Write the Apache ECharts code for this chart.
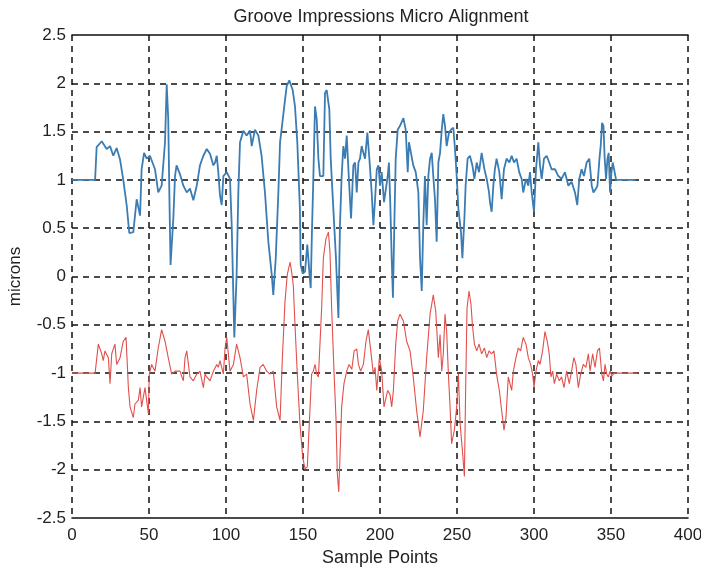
<!DOCTYPE html>
<html lang="en">
<head>
    <meta charset="UTF-8">
    <title>Groove Impressions Micro Alignment</title>
    <style>
        html, body { margin: 0; padding: 0; background: #fff; }
        #chart { width: 701px; height: 571px; }
    </style>
</head>
<body>
    <div id="chart"></div>
    <script src="https://cdn.jsdelivr.net/npm/echarts@6/dist/echarts.min.js"></script>
    <script>
        // upper trace (blue)
        const blueX = [0, 15, 16, 19.3, 20.3, 22.5, 24.7, 26.8, 29, 31.2, 33.3, 35.5, 37.2, 39.8, 42, 44.2, 45.2, 46.8, 48.5, 50.6,
            53.9, 56, 58.2, 60.4, 61.5, 62.5, 63.2, 64, 65.8, 66.9, 67.9, 70.1, 72.3, 74.5, 76.6, 78.8, 81, 83.1, 85.3, 87.5,
            89.6, 91.8, 92.9, 94, 95, 96.1, 97.2, 98.3, 100.5, 102.6, 103.7, 105.4, 106.9, 108, 109.1, 111.3, 113.4, 115.6, 116.7, 118.8,
            121, 123.1, 125.3, 127.5, 129.7, 130.7, 132.3, 134, 135.1, 136.6, 137.6, 139.4, 141.1, 143.3, 144.8, 146.3, 148, 148.5, 149.8, 151.3,
            152.8, 154.1, 155, 155.8, 156.7, 157.8, 158.9, 160, 161, 163.2, 164.3, 165.4, 167.1, 168, 169.7, 171.4, 173, 174, 175.1, 176.2,
            177.3, 178.4, 179.9, 181.2, 182.7, 183.8, 184.9, 186, 187, 188.1, 189.2, 190.3, 191.8, 193.1, 194.6, 195.7, 196.8, 197.9, 199, 200,
            201.1, 202.6, 205, 205.8, 206.7, 207.6, 208.4, 209.3, 210.2, 211.5, 213, 215.2, 216.7, 218, 218.8, 220.1, 221.6, 223.2, 224.9, 226,
            227.1, 228.1, 229.2, 230.3, 231.4, 232.5, 233.6, 234.6, 235.7, 236.8, 237.9, 239, 240.1, 241.1, 242.2, 243.3, 244.8, 246.1, 247.6, 248.7,
            249.8, 250.9, 252.6, 253.5, 254.8, 255.6, 256.9, 258.4, 260, 261.3, 262.8, 264.3, 266, 267.8, 269.3, 270.8, 271.4, 272.5, 273.6, 274.6,
            275.7, 277.5, 279, 280.5, 282.2, 284, 285.5, 287, 288.7, 290.4, 292, 293, 294.8, 296.3, 297.4, 298.5, 300, 301.3, 302.8, 303.9,
            305, 306.5, 308.2, 309.9, 311.4, 313.6, 315.8, 317.9, 320.1, 322.3, 324.4, 326.6, 328.1, 329.4, 330.9, 332.4, 334.2, 335.9, 337.5, 338.6,
            340.3, 341.2, 342.5, 343.3, 344.2, 345.1, 345.9, 346.8, 347.7, 348.5, 349.4, 350.3, 351.1, 352, 353.3, 366];
        const blueY = [1, 1, 1.34, 1.40, 1.38, 1.32, 1.35, 1.25, 1.33, 1.21, 1.0, 0.74, 0.45, 0.46, 0.80, 0.63, 1.11, 1.28, 1.22, 1.25,
            1.11, 0.87, 0.94, 1.39, 1.99, 1.63, 0.87, 0.12, 0.60, 1.04, 1.15, 1.06, 0.94, 0.87, 0.91, 0.79, 0.94, 1.15, 1.25, 1.32,
            1.27, 1.15, 1.18, 1.25, 1.08, 0.84, 0.74, 1.04, 1.08, 1.01, 0.53, -0.63, 0.02, 0.87, 1.39, 1.51, 1.46, 1.51, 1.35, 1.52,
            1.46, 1.25, 0.87, 0.36, 0.02, -0.19, 0.19, 0.87, 1.39, 1.59, 1.73, 1.97, 2.03, 1.93, 1.76, 1.39, 0.70, 0.12, 0.03, 0.05,
            0.33, 0.05, -0.12, 0.46, 1.01, 1.76, 1.63, 1.22, 1.04, 1.04, 1.90, 1.93, 1.73, 1.22, 0.70, 0.19, -0.43, 0.53, 1.04, 1.35,
            1.22, 1.46, 0.98, 0.60, 1.15, 1.18, 0.87, 1.18, 1.22, 1.35, 1.28, 1.22, 1.49, 1.22, 0.87, 0.53, 0.80, 1.11, 1.15, 0.94,
            1.08, 0.77, 1.04, 1.18, 0.74, 0.19, -0.22, 0.53, 1.22, 1.52, 1.56, 1.64, 1.52, 1.08, 1.39, 1.28, 1.15, 1.08, 0.87, 0.19,
            -0.15, 0.53, 1.04, 0.53, 1.04, 1.22, 1.28, 1.04, 0.80, 0.36, 1.18, 1.28, 1.52, 1.68, 1.56, 1.35, 1.49, 1.52, 1.54, 1.32,
            1.04, 0.70, 0.46, 0.19, 0.60, 0.94, 1.22, 1.25, 1.15, 1.01, 1.18, 1.08, 1.28, 1.11, 1.01, 0.87, 0.77, 0.67, 0.94, 1.11,
            1.22, 1.08, 0.80, 1.11, 1.22, 1.18, 1.25, 1.18, 1.22, 1.08, 1.01, 0.87, 1.01, 0.94, 1.08, 0.87, 0.67, 1.11, 1.39, 1.15,
            1.01, 1.22, 1.25, 1.18, 1.11, 1.11, 1.04, 1.01, 1.08, 0.94, 0.98, 0.87, 0.74, 1.01, 1.11, 1.04, 1.18, 1.22, 0.94, 0.87,
            0.91, 0.94, 1.22, 1.35, 1.59, 1.56, 1.22, 1.01, 1.22, 1.28, 0.87, 1.08, 1.18, 1.11, 1.0, 1.0];

        // lower trace (red)
        const redX = [0, 15, 17.1, 19.3, 20.3, 21.4, 23.6, 24.7, 25.8, 27.9, 29, 31.2, 33.3, 35.1, 36.6, 37.7, 39.8, 40.9, 43.1, 44.2,
            45.2, 47.4, 49.6, 50.2, 51.7, 53.9, 56, 58.2, 60.4, 62.5, 64.7, 66.9, 70.1, 72.3, 73.4, 74.5, 76.6, 78.8, 81, 83.1,
            85.3, 86.4, 87.5, 89.6, 91.8, 94, 95, 96.1, 98.3, 99.4, 100.5, 101.5, 102.6, 104.8, 106.9, 109.1, 111.3, 113.4, 115.6, 117.8,
            119.9, 122.1, 124.2, 126.4, 128.6, 130.7, 132.9, 135.1, 136.6, 138.3, 139.8, 141.6, 142.6, 143.7, 144.8, 146.3, 148, 149.8, 151.3, 152.8,
            154.1, 155.6, 156.7, 157.8, 158.9, 160, 160.6, 162.1, 163.2, 164.9, 166.5, 167.5, 168.6, 170.2, 171.4, 172.3, 173.2, 174, 175.1, 176.6,
            178.4, 179.9, 181.7, 183.2, 184.9, 186, 187.4, 189.2, 190.9, 192.4, 194, 195.7, 196.8, 197.9, 199.6, 201.1, 202.6, 205, 206.5, 207.6,
            208.7, 210.2, 211.5, 213, 215.2, 217.3, 219.5, 221.6, 223.8, 226, 228.1, 230.3, 232.5, 234.6, 236.2, 237.9, 239, 240.1, 241.1, 242.2,
            243.3, 244.4, 245.5, 246.5, 248.3, 249.8, 250.9, 252, 253.5, 254.8, 255.6, 256.5, 257.8, 259.1, 260, 261.3, 262.8, 264.3, 266, 267.8,
            269.3, 270.8, 272.5, 274, 275.7, 277.5, 279, 280.5, 281.8, 283.3, 284.4, 285.5, 286.6, 288.3, 289.8, 291.3, 293, 294.8, 296.3, 297.8,
            299.1, 300, 301.3, 302.8, 303.9, 305.6, 307.1, 308.6, 309.9, 311, 312.1, 313.2, 314.7, 316.4, 317.9, 319.5, 321.2, 322.9, 324.4, 325.9,
            327.2, 328.8, 330.3, 332, 333.7, 335.3, 336.4, 338.1, 339.6, 341.2, 342.5, 344, 345.1, 346.1, 347.2, 348.3, 349.4, 350.5, 352, 367];
        const redY = [-1, -1, -0.70, -0.80, -0.87, -0.77, -0.84, -1.11, -0.80, -0.70, -0.91, -0.84, -0.67, -0.63, -1.15, -1.35, -1.46, -1.32, -1.28, -1.15,
            -1.35, -1.15, -1.42, -1.01, -0.91, -0.98, -0.74, -0.55, -0.67, -0.84, -1.01, -0.98, -0.98, -1.08, -0.84, -0.77, -1.04, -1.08, -1.01, -0.98,
            -1.15, -1.01, -1.04, -1.08, -0.98, -0.91, -0.94, -0.87, -1.01, -0.74, -0.63, -0.80, -0.98, -0.91, -0.70, -0.84, -1.04, -1.01, -1.32, -1.49,
            -1.18, -0.94, -0.91, -0.98, -1.01, -0.98, -1.35, -1.49, -0.84, -0.26, 0.02, 0.15, 0.05, -0.09, -0.50, -1.01, -1.52, -1.87, -1.99, -1.97,
            -1.52, -1.01, -0.98, -0.91, -1.01, -1.04, -0.84, -0.33, 0.19, 0.39, 0.46, 0.26, -0.33, -1.01, -1.46, -2.04, -2.23, -1.87, -1.35, -1.11,
            -0.98, -0.91, -0.96, -0.77, -0.75, -0.91, -0.98, -0.91, -0.67, -0.55, -0.77, -1.01, -0.94, -1.18, -0.84, -0.98, -1.35, -1.18, -1.22, -1.35,
            -1.18, -0.70, -0.46, -0.39, -0.46, -0.67, -0.77, -1.04, -1.39, -1.66, -1.39, -0.84, -0.39, -0.19, -0.36, -0.84, -0.60, -0.98, -0.80, -0.39,
            -0.57, -1.01, -1.35, -1.73, -1.59, -1.35, -1.01, -1.52, -1.80, -2.07, -1.18, -0.33, -0.15, -0.29, -0.50, -0.70, -0.77, -0.70, -0.80, -0.74,
            -0.84, -0.77, -0.80, -0.77, -1.01, -1.18, -1.39, -1.59, -1.46, -1.04, -1.04, -1.18, -0.98, -0.84, -0.74, -0.77, -0.63, -0.70, -0.84, -0.91,
            -1.01, -1.15, -0.98, -0.87, -0.91, -0.77, -0.57, -0.67, -0.80, -1.04, -0.98, -1.11, -1.01, -1.08, -1.04, -1.15, -0.98, -1.11, -0.98, -0.84,
            -0.91, -1.15, -1.01, -0.91, -0.94, -0.80, -0.98, -0.80, -0.94, -0.77, -0.74, -1.01, -1.08, -0.91, -1.01, -1.04, -0.98, -1.03, -1, -1];

        const xTicks = [0, 400, 50];   // min, max, step
        const yTicks = [-2.5, 2.5, 0.5];

        const chart = echarts.init(document.getElementById('chart'));

        const labelFont = {
            fontFamily: 'Liberation Sans, Arial, sans-serif',
            fontSize: 17,
            color: '#222'
        };
        const dashed = {
            show: true,
            lineStyle: { color: '#111', width: 1.5, type: [6, 5] }
        };
        const solidEdge = { show: true, onZero: false, lineStyle: { color: '#111', width: 1.6, type: 'solid' } };

        chart.setOption({
            animation: false,
            backgroundColor: '#fff',
            title: {
                text: 'Groove Impressions Micro Alignment',
                left: 376,
                textAlign: 'center',
                top: 3,
                textStyle: {
                    fontFamily: 'Liberation Sans, Arial, sans-serif',
                    fontSize: 18,
                    fontWeight: 'normal',
                    color: '#222'
                }
            },
            grid: { left: 72, right: 13, top: 35, bottom: 53, outerBoundsMode: 'none' },
            xAxis: [{
                type: 'value',
                min: xTicks[0],
                max: xTicks[1],
                interval: xTicks[2],
                name: 'Sample Points',
                nameLocation: 'middle',
                nameGap: 30,
                nameTextStyle: Object.assign({}, labelFont, { fontSize: 18 }),
                axisLine: solidEdge,
                axisTick: { show: false },
                axisLabel: Object.assign({ margin: 9 }, labelFont),
                splitLine: dashed,
                z: 5
            }, {
                type: 'value',
                position: 'top',
                min: xTicks[0],
                max: xTicks[1],
                interval: xTicks[2],
                axisLine: solidEdge,
                axisTick: { show: false },
                axisLabel: { show: false },
                splitLine: { show: false },
                z: 5
            }],
            yAxis: {
                type: 'value',
                min: yTicks[0],
                max: yTicks[1],
                interval: yTicks[2],
                name: 'microns',
                nameLocation: 'middle',
                nameGap: 48,
                nameTextStyle: labelFont,
                axisLine: { show: false },
                axisTick: { show: false },
                axisLabel: Object.assign({ margin: 6 }, labelFont),
                splitLine: Object.assign({ showMinLine: false, showMaxLine: false }, dashed)
            },
            series: [{
                type: 'line',
                data: blueX.map((x, i) => [x, blueY[i]]),
                showSymbol: false,
                lineStyle: { color: '#3b7cb3', width: 1.8 },
                z: 8
            }, {
                type: 'line',
                data: redX.map((x, i) => [x, redY[i]]),
                showSymbol: false,
                lineStyle: { color: '#e0504c', width: 1.1 },
                z: 8
            }]
        });
    </script>
</body>
</html>
